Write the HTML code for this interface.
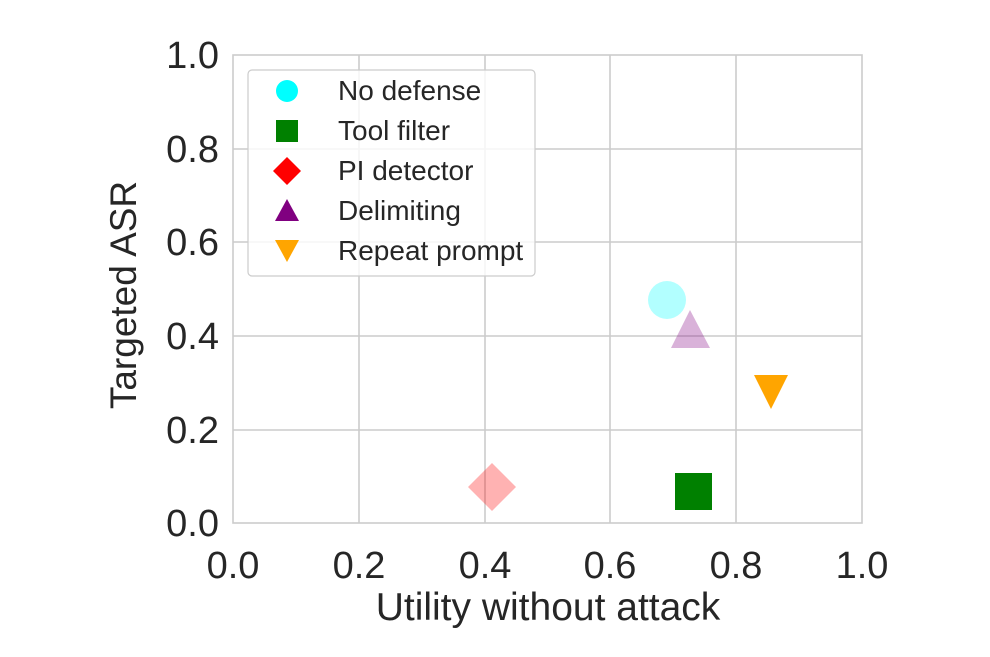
<!DOCTYPE html>
<html><head><style>body{margin:0;background:#fff}</style></head><body>
<svg width="990" height="652" xmlns="http://www.w3.org/2000/svg" font-family="Liberation Sans, sans-serif" fill="#262626">
<g stroke="#cccccc" stroke-width="1.6">
<line x1="359" y1="55" x2="359" y2="523"/><line x1="485" y1="55" x2="485" y2="523"/><line x1="610" y1="55" x2="610" y2="523"/><line x1="736" y1="55" x2="736" y2="523"/>
<line x1="233" y1="149" x2="862" y2="149"/><line x1="233" y1="242" x2="862" y2="242"/><line x1="233" y1="336" x2="862" y2="336"/><line x1="233" y1="430" x2="862" y2="430"/>
<rect x="233" y="55" width="629" height="468" fill="none"/>
</g>
<g font-size="38" text-anchor="middle">
<text x="233" y="578">0.0</text><text x="359" y="578">0.2</text><text x="485" y="578">0.4</text><text x="610" y="578">0.6</text><text x="736" y="578">0.8</text><text x="862" y="578">1.0</text>
</g>
<g font-size="38" text-anchor="end">
<text x="219" y="536">0.0</text><text x="219" y="443">0.2</text><text x="219" y="349">0.4</text><text x="219" y="255">0.6</text><text x="219" y="162">0.8</text><text x="219" y="68">1.0</text>
</g>
<text x="548" y="620" font-size="39" text-anchor="middle">Utility without attack</text>
<text transform="translate(136,295) rotate(-90)" font-size="37" text-anchor="middle">Targeted ASR</text>
<circle cx="667" cy="300" r="19" fill="cyan" fill-opacity="0.3"/>
<rect x="675" y="473" width="37" height="37" fill="green"/>
<polygon points="492,463 516,487 492,511 468,487" fill="red" fill-opacity="0.3"/>
<polygon points="690,310 710,348 671,348" fill="purple" fill-opacity="0.3"/>
<polygon points="754,375 788,375 771,409" fill="orange"/>
<rect x="248" y="70" width="287" height="206" rx="4" fill="#fff" fill-opacity="0.8" stroke="#cccccc" stroke-width="1.2"/>
<g font-size="28">
<circle cx="287" cy="91" r="11" fill="cyan"/><text x="338" y="100">No defense</text>
<rect x="276" y="120" width="22" height="22" fill="green"/><text x="338" y="140">Tool filter</text>
<polygon points="287,157 301,171 287,185 273,171" fill="red"/><text x="338" y="180">PI detector</text>
<polygon points="287,199 299,221 275,221" fill="purple"/><text x="338" y="220">Delimiting</text>
<polygon points="275,240 299,240 287,262" fill="orange"/><text x="338" y="260">Repeat prompt</text>
</g>
</svg>
</body></html>
